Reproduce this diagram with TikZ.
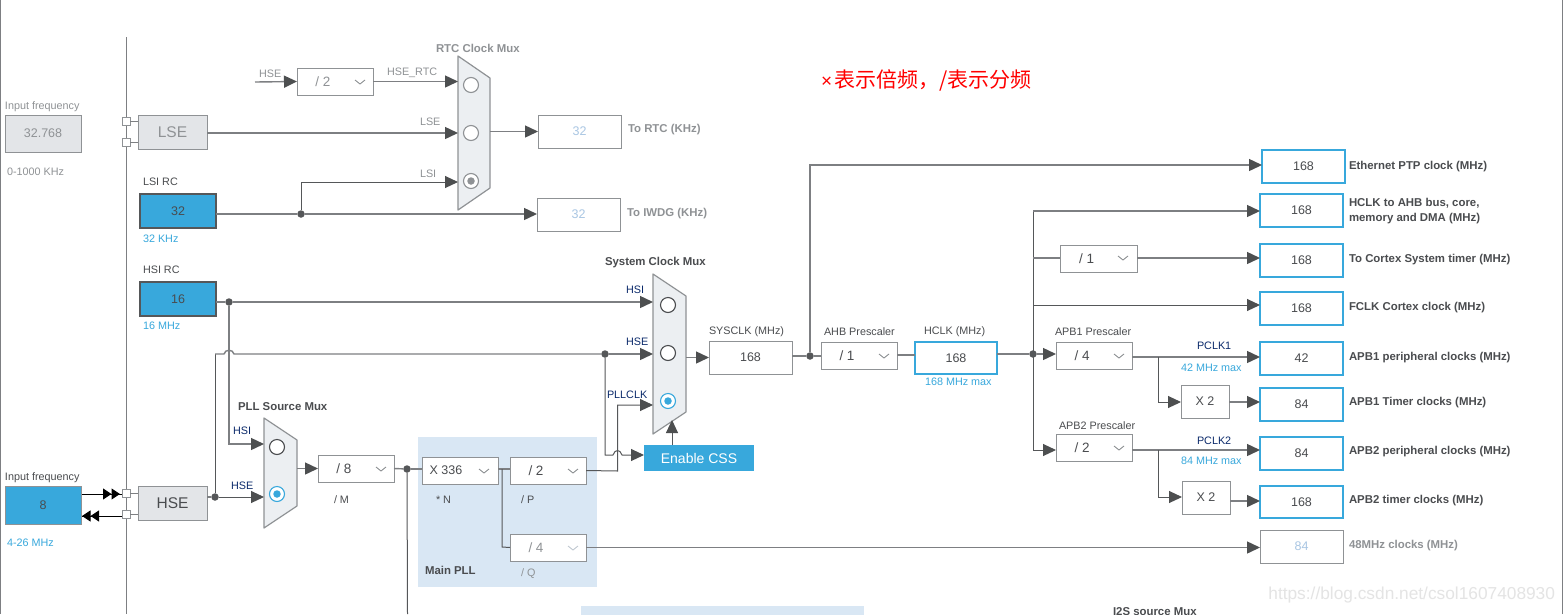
\documentclass[tikz,border=0pt]{standalone}
\usepackage{fontspec}
\setmainfont{Liberation Sans}
\newfontfamily\cjk{Noto Sans CJK SC}
\usetikzlibrary{arrows.meta,calc}
\definecolor{cblue}{HTML}{38A8DC}
\definecolor{cline}{HTML}{7D7F82}
\definecolor{cdark}{HTML}{555759}
\definecolor{ctip}{HTML}{4D4F50}
\definecolor{cstroke}{HTML}{8F9295}
\definecolor{cgrayfill}{HTML}{E3E5E8}
\definecolor{cmux}{HTML}{ECEFF2}
\definecolor{cbg}{HTML}{D9E7F4}
\definecolor{ctext}{HTML}{4A4C4F}
\definecolor{cgraytext}{HTML}{8F9295}
\definecolor{cfaint}{HTML}{A9C6E3}
\definecolor{cnavy}{HTML}{0B2A6B}
\definecolor{cwater}{HTML}{E4E4E4}
\newcommand{\clkbox}[7]{\node[#6,minimum width={(#4-#2)*1pt},minimum height={(#5-#3)*1pt}] (#1) at ({(#2+#4)/2},{(#3+#5)/2}) {#7};}
\newcommand{\chev}[3][cstroke]{\draw[#1,line width=0.9pt] (#2-5,#3-2) -- (#2,#3+2) -- (#2+5,#3-2);}
\newcommand{\muxshape}[1]{\draw[muxsty] (#1.north west) -- ($(#1.north east)+(0,22)$) -- ($(#1.south east)+(0,-22)$) -- (#1.south west) -- cycle;}
\newcommand{\lab}[5][west]{\node[lbl,anchor=#1,text=#4,yshift=-1pt,#5] at (#2) {#3};}
\newcommand{\dv}[1]{{\fontsize{13.5}{15}\selectfont #1}\hspace*{24pt}}
\tikzset{
 x=1pt,y=-1pt,
 base/.style={inner sep=0pt,outer sep=0pt,font=\fontsize{12.5}{14}\selectfont,text=ctext},
 plainbox/.style={base,draw=cstroke,line width=1pt,fill=white},
 faintbox/.style={plainbox,text=cfaint},
 bluebox/.style={base,draw=cdark,line width=1.2pt,fill=cblue},
 blueflat/.style={base,draw=cstroke,line width=1pt,fill=cblue},
 outbox/.style={base,draw=cblue,line width=2pt,fill=white},
 graybox/.style={base,draw=cstroke,line width=1pt,fill=cgrayfill},
 muxbb/.style={inner sep=0pt,outer sep=0pt},
 muxsty/.style={draw=cstroke,line width=1.2pt,fill=cmux,line join=round},
 conn/.style={draw=cline,line width=1.4pt},
 darkconn/.style={draw=cdark,line width=1pt},
 arr/.style={-{Triangle[length=13pt,width=12pt,fill=ctip,color=ctip]}},
 jdot/.style={circle,fill=cdark,inner sep=0pt,minimum size=7.5pt,outer sep=0pt},
 sq/.style={draw=cstroke,line width=1pt,fill=white,inner sep=0pt,minimum size=8pt,outer sep=0pt},
 radio/.style={circle,draw=#1,line width=1.1pt,fill=white,inner sep=0pt,minimum size=15pt,outer sep=0pt},
 dotin/.style={circle,fill=#1,inner sep=0pt,minimum size=7.5pt},
 lbl/.style={inner sep=0pt,outer sep=0pt,font=\fontsize{10.8}{12}\selectfont},
 bl/.style={font=\fontsize{11.4}{12}\bfseries\selectfont},
}
\begin{document}
\begin{tikzpicture}
\useasboundingbox (0,0) rectangle (1563,614);
\fill[white] (0,0) rectangle (1563,614);
% window edges and bus
\draw[cline,line width=1.3pt] (0.5,0) -- (0.5,614);
\draw[cline,line width=1pt] (1562.5,0) -- (1562.5,614);
\coordinate (bustop) at (126.5,37);
\coordinate (busbot) at (126.5,614);
\draw[cline,line width=1.2pt] (bustop) -- (busbot);
% backgrounds
\clkbox{pllbg}{418}{437}{597}{587}{fill=cbg,inner sep=0pt,outer sep=0pt}{}
\clkbox{i2sbg}{581}{606}{864}{620}{fill=cbg,inner sep=0pt,outer sep=0pt}{}
% left inputs
\clkbox{lsein}{5}{115}{81}{152}{graybox,text=cgraytext}{32.768}
\clkbox{lse}{138}{115}{207}{149}{graybox,text=cgraytext,font=\fontsize{15.5}{18}\selectfont}{LSE}
\node[sq] (sqa) at (126,121) {};
\node[sq] (sqb) at (126,142) {};
\draw[cline,line width=1pt] (sqa) -- (sqa -| lse.west);
\draw[cline,line width=1pt] (sqb) -- (sqb -| lse.west);
\clkbox{lsi}{140}{194}{216}{228}{bluebox}{32}
\clkbox{hsi}{140}{282}{216}{316}{bluebox}{16}
\clkbox{hsein}{5}{486}{81}{524}{blueflat}{8}
\clkbox{hse}{138}{486}{207}{520}{graybox,font=\fontsize{15.5}{18}\selectfont}{HSE}
\node[sq] (sqc) at (126,493) {};
\node[sq] (sqd) at (126,514) {};
\draw[cline,line width=1pt] (sqc) -- (sqc -| hse.west);
\draw[cline,line width=1pt] (sqd) -- (sqd -| hse.west);
\coordinate (oa) at (82,494);
\coordinate (ob) at (82,516);
\coordinate (ta) at (103,494);
\coordinate (tb) at (122,516);
\draw[black,line width=1pt] (oa) -- (oa -| sqc.west);
\draw[black,line width=1pt] (ob) -- (tb);
\draw[black,line width=1pt,-{Triangle[length=8.5pt,width=11pt]Triangle[length=8.5pt,width=11pt]}] (ta) -- ++(17,0);
\draw[black,line width=1pt,-{Triangle[length=8.5pt,width=11pt]Triangle[length=8.5pt,width=11pt]}] (99,516) -- (ob);
% RTC mux
\clkbox{rtc}{458}{56}{490}{210}{muxbb}{}
\muxshape{rtc}
\node[radio=cstroke] (ra) at (471,85) {};
\node[radio=cstroke] (rb) at (471,133) {};
\node[radio=cstroke] (rc) at (471,181) {};
\node[dotin=cstroke] at (rc) {};
\coordinate (hsefree) at (255,82);
\clkbox{divrtc}{297}{68}{373}{95}{plainbox,text=cgraytext}{\dv{/ 2}}
\chev{360}{82}
\draw[conn,arr] (hsefree) -- (divrtc.west);
\draw[conn,arr] (divrtc.east) -- (divrtc.east -| rtc.west);
\draw[conn,arr] (lse.east |- rb) -- (rtc.west |- rb);
\node[jdot] (dlsi) at (301,214) {};
\draw[conn] (dlsi -| lsi.east) -- (dlsi);
\draw[darkconn,arr] (dlsi) -- (301,182) -- (rtc.west |- 0,182);
\clkbox{torct}{538}{115}{621}{148}{faintbox}{32}
\clkbox{toiw}{537}{198}{620}{231}{faintbox}{32}
\draw[conn,arr] (rtc.east |- torct) -- (torct.west);
\draw[conn,arr] (dlsi) -- (toiw.west |- dlsi);
% System mux
\clkbox{sys}{653}{274}{686}{434}{muxbb}{}
\muxshape{sys}
\node[radio=ctext] (sa) at (668,305) {};
\node[radio=ctext] (sb) at (668,353) {};
\node[radio=cblue] (sc) at (668,401) {};
\node[dotin=cblue] at (sc) {};
\node[jdot] (dhsi) at (229,302) {};
\draw[conn] (dhsi -| hsi.east) -- (dhsi);
\draw[conn,arr] (dhsi) -- (sys.west |- dhsi);
% PLL source mux
\clkbox{pll}{264}{418}{297}{528}{muxbb}{}
\muxshape{pll}
\node[radio=ctext] (pa) at (277,447) {};
\node[radio=cblue] (pb) at (277,494) {};
\node[dotin=cblue] at (pb) {};
\draw[conn,arr] (dhsi) -- (229,444) -- (pll.west |- 0,444);
\node[jdot] (dhse) at (215,497) {};
\draw[conn] (hse.east |- dhse) -- (dhse);
\draw[darkconn,arr] (dhse) -- (pll.west |- dhse);
\node[jdot] (dsys) at (605,354) {};
\draw[darkconn] (dhse) -- (215,354);
\draw[conn,line join=round] (215,354) -- (224,354) .. controls (225,349) and (233,349) .. (234,354) -- (dsys);
\draw[conn,arr] (dsys) -- (sys.west |- dsys);
% PLL chain
\clkbox{divm}{318}{455}{394}{482}{plainbox}{\dv{/ 8}}
\chev{381}{469}
\draw[conn,arr] (pll.east |- divm) -- (divm.west);
\clkbox{muln}{422}{457}{498}{484}{plainbox}{X 336\hspace*{28pt}}
\chev{484}{471}
\node[jdot] (dpll) at (407,469) {};
\draw[conn] (divm.east) -- (dpll);
\draw[conn] (dpll) -- (muln.west |- dpll);
\coordinate (pllbot) at (407.5,614);
\draw[cdark,line width=1pt] (dpll) -- (pllbot);
\clkbox{divp}{510}{457}{586}{484}{plainbox}{\dv{/ 2}}
\chev{573}{471}
\clkbox{divq}{510}{534}{586}{561}{plainbox,text=cgraytext}{\dv{/ 4}}
\chev[cfaint!40!cstroke!60]{573}{548}
\draw[conn] (muln.east |- 0,469) -- (divp.west |- 0,469);
\draw[cdark,line width=1pt] (502,469) -- (502,547) -- (divq.west);
% Enable CSS
\clkbox{css}{644}{445}{754}{471}{fill=cblue,inner sep=0pt,outer sep=0pt,text=white,font=\fontsize{14}{16}\selectfont}{Enable CSS}
\draw[darkconn,arr] (divp.east) -- (617.5,471) -- (617.5,405) -- (sys.west |- 0,405);
\draw[darkconn,arr,line join=round] (dsys) -- (605,455) -- (613,455) .. controls (615,449) and (620,449) .. (622,455) -- (css.west |- 0,455);
\draw[darkconn,arr] (672,445) -- (672,420);
% sysclk chain
\clkbox{sysclk}{709}{341}{792}{374}{plainbox}{168}
\draw[conn,arr] (sys.east |- sysclk) -- (sysclk.west);
\node[jdot] (dclk) at (810,356) {};
\draw[conn] (sysclk.east |- dclk) -- (dclk);
\clkbox{ahb}{821}{342}{897}{369}{plainbox}{\dv{/ 1}}
\chev{884}{356}
\draw[conn] (dclk) -- (ahb.west |- dclk);
\clkbox{hclk}{915}{342}{997}{374}{outbox}{168}
\draw[conn] (ahb.east |- 0,355) -- (hclk.west |- 0,355);
\node[jdot] (dh) at (1033,354) {};
\draw[conn] (hclk.east |- dh) -- (dh);
% outputs
\clkbox{oeth}{1262}{150}{1345}{183}{outbox}{168}
\clkbox{oahb}{1260}{194}{1343}{227}{outbox}{168}
\clkbox{ocor}{1260}{244}{1343}{277}{outbox}{168}
\clkbox{ofcl}{1260}{292}{1343}{325}{outbox}{168}
\clkbox{oap1}{1260}{342}{1343}{375}{outbox}{42}
\clkbox{oat1}{1260}{388}{1343}{421}{outbox}{84}
\clkbox{oap2}{1260}{437}{1343}{470}{outbox}{84}
\clkbox{oat2}{1260}{486}{1343}{518}{outbox}{168}
\clkbox{o48}{1260}{530}{1343}{563}{faintbox}{84}
\draw[conn,arr] (dclk) -- (810,165) -- (oeth.west |- 0,165);
\draw[darkconn] (dh |- 0,211) -- (1033,451);
\draw[conn,arr] (1033,211) -- (oahb.west |- 0,211);
\clkbox{div1}{1060}{245}{1137}{272}{plainbox}{\dv{/ 1}}
\chev{1123}{258}
\draw[conn] (1033,258) -- (div1.west |- 0,258);
\draw[conn,arr] (div1.east |- 0,258) -- (ocor.west |- 0,258);
\draw[darkconn,arr] (1033,305) -- (ofcl.west |- 0,305);
\clkbox{apb1}{1056}{342}{1132}{369}{plainbox}{\dv{/ 4}}
\chev{1119}{356}
\draw[conn,arr] (dh) -- (apb1.west |- dh);
\clkbox{apb2}{1056}{434}{1132}{461}{plainbox}{\dv{/ 2}}
\chev{1119}{448}
\draw[darkconn,arr] (1033,450) -- (apb2.west |- 0,450);
\draw[conn,arr] (apb1.east |- 0,357) -- (oap1.west |- 0,357);
\draw[conn,arr] (apb2.east |- 0,450) -- (oap2.west |- 0,450);
\clkbox{xa}{1181}{385}{1229}{418}{plainbox}{X 2}
\clkbox{xb}{1182}{481}{1230}{514}{plainbox}{X 2}
\draw[darkconn,arr] (1158,357) -- (1158,402) -- (xa.west |- 0,402);
\draw[darkconn,arr] (1158,450) -- (1158,497) -- (xb.west |- 0,497);
\draw[conn,arr] (xa.east |- 0,402) -- (oat1.west |- 0,402);
\draw[conn,arr] (xb.east |- 0,501) -- (oat2.west |- 0,501);
\draw[conn,arr] (divq.east) -- (o48.west |- divq.east);
% labels
\lab{5,106}{Input frequency}{cgraytext}{}
\lab{7,171}{0-1000 KHz}{cgraytext}{}
\lab{143,181}{LSI RC}{ctext}{}
\lab{143,238}{32 KHz}{cblue}{}
\lab{143,269}{HSI RC}{ctext}{}
\lab{143,325}{16 MHz}{cblue}{}
\lab{5,477}{Input frequency}{ctext}{}
\lab{7,542}{4-26 MHz}{cblue}{}
\lab{259,73}{HSE}{cgraytext}{}
\lab{387,72}{HSE\_RTC}{cgraytext}{}
\lab{420,121}{LSE}{cgraytext}{}
\lab{420,173}{LSI}{cgraytext}{}
\lab{436,47}{RTC Clock Mux}{cgraytext}{bl}
\lab{628,129}{To RTC (KHz)}{cgraytext}{bl}
\lab{627,213}{To IWDG (KHz)}{cgraytext}{bl}
\lab{605,262}{System Clock Mux}{ctext}{bl}
\lab{626,289}{HSI}{cnavy}{}
\lab{626,341}{HSE}{cnavy}{}
\lab{607,394}{PLLCLK}{cnavy}{}
\lab{238,406}{PLL Source Mux}{ctext}{bl}
\lab{233,430}{HSI}{cnavy}{}
\lab{231,485}{HSE}{cnavy}{}
\lab{334,499}{/ M}{ctext}{}
\lab{436,499}{* N}{ctext}{}
\lab{521,499}{/ P}{ctext}{}
\lab{521,573}{/ Q}{cgraytext}{}
\lab{425,569}{Main PLL}{ctext}{bl}
\lab{709,331}{SYSCLK (MHz)}{ctext}{}
\lab{824,331}{AHB Prescaler}{ctext}{}
\lab{924,331}{HCLK (MHz)}{ctext}{}
\lab{925,381}{168 MHz max}{cblue}{}
\lab{1055,331}{APB1 Prescaler}{ctext}{}
\lab{1197,345}{PCLK1}{cnavy}{}
\lab{1181,367}{42 MHz max}{cblue}{}
\lab{1059,425}{APB2 Prescaler}{ctext}{}
\lab{1197,440}{PCLK2}{cnavy}{}
\lab{1181,460}{84 MHz max}{cblue}{}
\lab{1349,166}{Ethernet PTP clock (MHz)}{ctext}{bl}
\lab{1349,202}{HCLK to AHB bus, core,}{ctext}{bl}
\lab{1349,218}{memory and DMA (MHz)}{ctext}{bl}
\lab{1349,259}{To Cortex System timer (MHz)}{ctext}{bl}
\lab{1349,307}{FCLK Cortex clock (MHz)}{ctext}{bl}
\lab{1349,357}{APB1 peripheral clocks (MHz)}{ctext}{bl}
\lab{1349,402}{APB1 Timer clocks (MHz)}{ctext}{bl}
\lab{1349,451}{APB2 peripheral clocks (MHz)}{ctext}{bl}
\lab{1349,500}{APB2 timer clocks (MHz)}{ctext}{bl}
\lab{1349,545}{48MHz clocks (MHz)}{cgraytext}{bl}
\lab{1113,611}{I2S source Mux}{ctext}{bl}
\node[lbl,anchor=west,text=red,font=\fontsize{21}{24}\cjk\selectfont] (note) at (821,80) {{\rmfamily\fontsize{19}{24}\selectfont ×}\hspace{2pt}表示倍频，/表示分频};
\node[lbl,anchor=east,text=cwater,font=\fontsize{17.3}{20}\selectfont] (water) at (1555,595) {https://blog.csdn.net/csol1607408930};
\end{tikzpicture}
\end{document}
